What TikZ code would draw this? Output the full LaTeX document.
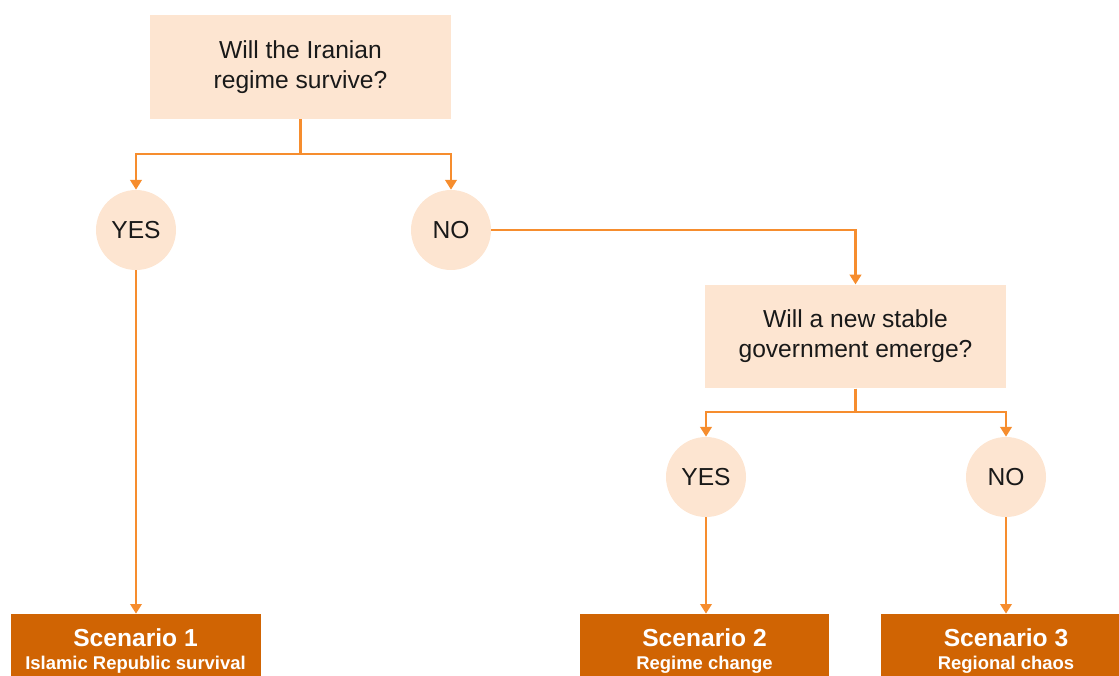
\documentclass[tikz,border=0pt]{standalone}
\usepackage{fontspec}
\setmainfont{Liberation Sans}
\usepackage{tikz}
\usetikzlibrary{arrows.meta}

\definecolor{peach}{HTML}{FDE5D1}
\definecolor{lineorange}{HTML}{F68D2E}
\definecolor{darkorange}{HTML}{D06403}

\begin{document}
\begin{tikzpicture}[every node/.style={font=\fontsize{14}{17}\selectfont, text=black!90},
    question/.style={fill=peach, minimum width=6.02cm, minimum height=2.07cm, align=center},
    answer/.style={fill=peach, circle, minimum size=1.6cm, inner sep=0pt},
    scenario/.style={fill=darkorange, minimum width=5cm, minimum height=1.48cm, align=center, text=white, font=\bfseries\fontsize{14}{17}\selectfont},
    link/.style={draw=lineorange, line width=1.25pt, -{Triangle[length=5.5pt,width=6.5pt]}}]
    \useasboundingbox (0, 0) rectangle (22.38, -13.5);
    \node [question] (q1) at (6.01, -1.34) {Will the Iranian\\regime survive?};
    \node [answer] (y1) at (2.72, -4.6) {YES};
    \node [answer] (n1) at (9.02, -4.6) {NO};
    \node [question] (q2) at (17.11, -6.73) {Will a new stable\\government emerge?};
    \node [answer] (y2) at (14.12, -9.54) {YES};
    \node [answer] (n2) at (20.12, -9.54) {NO};
    \node [scenario] (sc1) at (2.71, -13.02) {Scenario 1\\[-4pt]{\fontsize{10.5}{12}\selectfont Islamic Republic survival}};
    \node [scenario, minimum width=4.98cm] (sc2) at (14.09, -13.02) {Scenario 2\\[-4pt]{\fontsize{10.5}{12}\selectfont Regime change}};
    \node [scenario] (sc3) at (20.12, -13.02) {Scenario 3\\[-4pt]{\fontsize{10.5}{12}\selectfont Regional chaos}};
    \draw [link] (q1.south) -- ++(0, -0.7) -| (y1.north);
    \draw [link] (q1.south) -- ++(0, -0.7) -| (n1.north);
    \draw [link] (n1.east) -| (q2.north);
    \draw [link] (q2.south) -- ++(0, -0.46) -| (y2.north);
    \draw [link] (q2.south) -- ++(0, -0.46) -| (n2.north);
    \draw [link] (y1.south) -- (y1.south |- sc1.north);
    \draw [link] (y2.south) -- (y2.south |- sc2.north);
    \draw [link] (n2.south) -- (n2.south |- sc3.north);
  \end{tikzpicture}
\end{document}
